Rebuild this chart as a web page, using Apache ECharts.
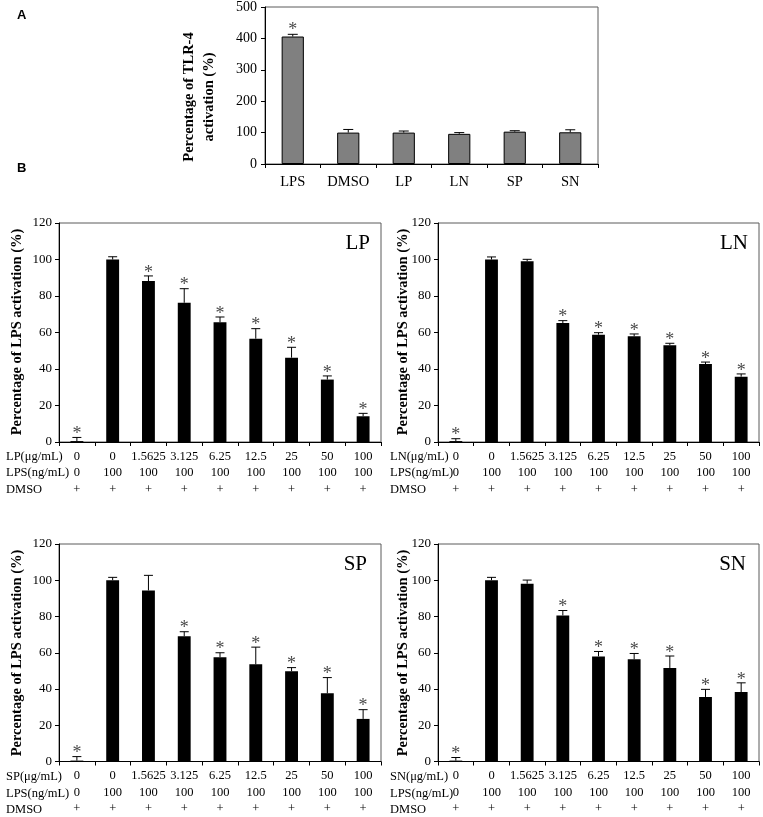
<!DOCTYPE html>
<html><head><meta charset="utf-8">
<script src="https://cdn.jsdelivr.net/npm/echarts@6/dist/echarts.min.js"></script>
<style>html,body{margin:0;padding:0;background:#fff}#c{width:763px;height:817px}</style>
</head><body><div id="c"></div>
<script>
// ---- Panel A data ----
const aCategories = ['LPS','DMSO','LP','LN','SP','SN'];
const aValues = [406, 100, 100, 96, 103, 101];
const aErrors = [7, 10, 5, 4, 3, 8];
const aStars = [1, 0, 0, 0, 0, 0];
const aTicks = [0, 100, 200, 300, 400, 500];

// ---- Panel B shared x labels ----
const concLabels = ['0','0','1.5625','3.125','6.25','12.5','25','50','100'];
const lpsLabels = ['0','100','100','100','100','100','100','100','100'];
const dmsoLabels = ['+','+','+','+','+','+','+','+','+'];
const bTicks = [0, 20, 40, 60, 80, 100, 120];

// ---- Panel B values ----
const lpValues = [0.5, 100, 88.2, 76.3, 65.6, 56.6, 46.2, 34.2, 14.1];
const lpErrors = [2, 1.5, 2.8, 7.7, 2.9, 5.5, 5.7, 2, 1.6];
const lpStars  = [1, 0, 1, 1, 1, 1, 1, 1, 1];

const lnValues = [0.5, 100, 99, 65.2, 58.8, 57.9, 53, 42.7, 35.8];
const lnErrors = [1.3, 1.4, 1.1, 1.3, 1.1, 1.3, 1.1, 1.1, 1.5];
const lnStars  = [1, 0, 0, 1, 1, 1, 1, 1, 1];

const spValues = [0.5, 100, 94.4, 69.1, 57.5, 53.6, 49.8, 37.6, 23.5];
const spErrors = [2.2, 1.6, 8.3, 2.5, 2.5, 9.5, 2, 8.7, 5.1];
const spStars  = [1, 0, 0, 1, 1, 1, 1, 1, 1];

const snValues = [0.5, 100, 98.1, 80.6, 58, 56.4, 51.6, 35.6, 38.3];
const snErrors = [1.7, 1.6, 2, 2.7, 2.7, 3.2, 6.6, 4.2, 5.1];
const snStars  = [1, 0, 0, 1, 1, 1, 1, 1, 1];

const panelNames = ['LP','LN','SP','SN'];

const SERIF = '"Liberation Serif", "Times New Roman", serif';
const chart = echarts.init(document.getElementById('c'), null, {renderer:'canvas'});

const grids = [
  {left:265, top:5, width:333, height:159},
  {left:59, top:223, width:322, height:219},
  {left:438, top:223, width:321, height:219},
  {left:59, top:544, width:322, height:220},
  {left:438, top:544, width:321, height:220}
];

function errSeries(idx, vals, errs, stars, cap, starSize, starOff) {
  return {
    type:'custom', xAxisIndex:idx, yAxisIndex:idx, z:5,
    data: vals.map((v,i)=>[i, v, errs[i], stars[i]]),
    encode:{x:0, y:1},
    renderItem:function(params, api){
      const i = api.value(0), v = api.value(1), e = api.value(2), s = api.value(3);
      const p0 = api.coord([i, v]);
      const p1 = api.coord([i, v+e]);
      const st = {stroke:'#000', lineWidth:1};
      const ch = [
        {type:'line', shape:{x1:p0[0], y1:p0[1], x2:p1[0], y2:p1[1]}, style:st},
        {type:'line', shape:{x1:p1[0]-cap, y1:p1[1], x2:p1[0]+cap, y2:p1[1]}, style:st}
      ];
      if (s) ch.push({type:'text', x:p1[0], y:p1[1]-starOff,
        style:{text:'*', fill:'#4a4a4a', font:starSize+'px '+SERIF, align:'center', verticalAlign:'middle'}});
      return {type:'group', children:ch};
    }
  };
}

const xAxes = [], yAxes = [], series = [];
// Panel A
xAxes.push({gridIndex:0, type:'category', data:aCategories,
  axisLine:{lineStyle:{color:'#000'}}, axisTick:{show:true, length:4, lineStyle:{color:'#000'}},
  axisLabel:{fontFamily:SERIF, fontSize:14.5, color:'#000', margin:11}});
yAxes.push({gridIndex:0, type:'value', min:0, max:500, interval:100, splitLine:{show:false},
  axisLine:{show:true, lineStyle:{color:'#000'}}, axisTick:{show:true, length:4, lineStyle:{color:'#000'}},
  axisLabel:{fontFamily:SERIF, fontSize:14, color:'#000', margin:8,
    formatter:(v)=> aTicks.indexOf(v)>=0 ? String(v) : ''}});
series.push({type:'bar', xAxisIndex:0, yAxisIndex:0, data:aValues, barWidth:'40%',
  itemStyle:{color:'#808080', borderColor:'#000', borderWidth:1}});
series.push(errSeries(0, aValues, aErrors, aStars, 5, 18, 4));

const bSets = [[lpValues, lpErrors, lpStars],[lnValues, lnErrors, lnStars],[spValues, spErrors, spStars],[snValues, snErrors, snStars]];
bSets.forEach((set, k)=>{
  const idx = k+1;
  xAxes.push({gridIndex:idx, type:'category', data:concLabels.map((c,i)=>i),
    axisLine:{lineStyle:{color:'#000'}}, axisTick:{show:true, length:4, lineStyle:{color:'#000'}},
    axisLabel:{fontFamily:SERIF, fontSize:12.5, color:'#000', margin:6, lineHeight:16.5, interval:0,
      formatter:(v)=>{const i=+v; return concLabels[i]+'\n'+lpsLabels[i]+'\n'+dmsoLabels[i];}}});
  yAxes.push({gridIndex:idx, type:'value', min:0, max:120, interval:20, splitLine:{show:false},
    axisLine:{show:true, lineStyle:{color:'#000'}}, axisTick:{show:true, length:4, lineStyle:{color:'#000'}},
    axisLabel:{fontFamily:SERIF, fontSize:13, color:'#000', margin:7,
      formatter:(v)=> bTicks.indexOf(v)>=0 ? String(v) : ''}});
  series.push({type:'bar', xAxisIndex:idx, yAxisIndex:idx, data:set[0], barWidth:'36%',
    itemStyle:{color:'#000'}});
  series.push(errSeries(idx, set[0], set[1], set[2], 4.5, 18, 3));
});

const graphics = [
  {type:'text', left:17, top:9, style:{text:'A', font:'bold 13px "Liberation Sans", Arial, sans-serif', fill:'#000'}},
  {type:'text', left:17, top:162, style:{text:'B', font:'bold 13px "Liberation Sans", Arial, sans-serif', fill:'#000'}},
  {type:'text', x:199, y:97, rotation:Math.PI/2,
    style:{text:'Percentage of TLR-4\nactivation (%)', font:'bold 14.5px '+SERIF, fill:'#000', align:'center', verticalAlign:'middle', lineHeight:20}}
];
const yNamePos = [[17,332],[403.5,332],[17,653],[403,653]];
yNamePos.forEach(p=>graphics.push({type:'text', x:p[0], y:p[1], rotation:Math.PI/2,
  style:{text:'Percentage of LPS activation (%)', font:'bold 14.5px '+SERIF, fill:'#000', align:'center', verticalAlign:'middle'}}));
const titlePos = [[370,243],[748,243],[367,564],[746,564]];
titlePos.forEach((p,k)=>graphics.push({type:'text', x:p[0], y:p[1],
  style:{text:panelNames[k], font:'21px '+SERIF, fill:'#000', align:'right', verticalAlign:'middle'}}));
// row labels of the data tables
const rowX = [6, 390, 6, 390];
const rowY = [[456.7,472.7,489.3],[456.7,472.7,489.3],[777,793.5,810],[777,793.5,810]];
panelNames.forEach((n,k)=>{
  const labels = [n+'(μg/mL)', 'LPS(ng/mL)', 'DMSO'];
  labels.forEach((t,j)=>graphics.push({type:'text', x:rowX[k], y:rowY[k][j],
    style:{text:t, font:'12.5px '+SERIF, fill:'#000', align:'left', verticalAlign:'middle'}}));
});

chart.setOption({
  animation:false,
  backgroundColor:'#fff',
  grid: grids.map(g=>Object.assign({show:true, borderColor:'#5a5a5a', borderWidth:1, backgroundColor:'transparent', containLabel:false}, g)),
  xAxis:xAxes, yAxis:yAxes, series:series, graphic:graphics
});
</script></body></html>
